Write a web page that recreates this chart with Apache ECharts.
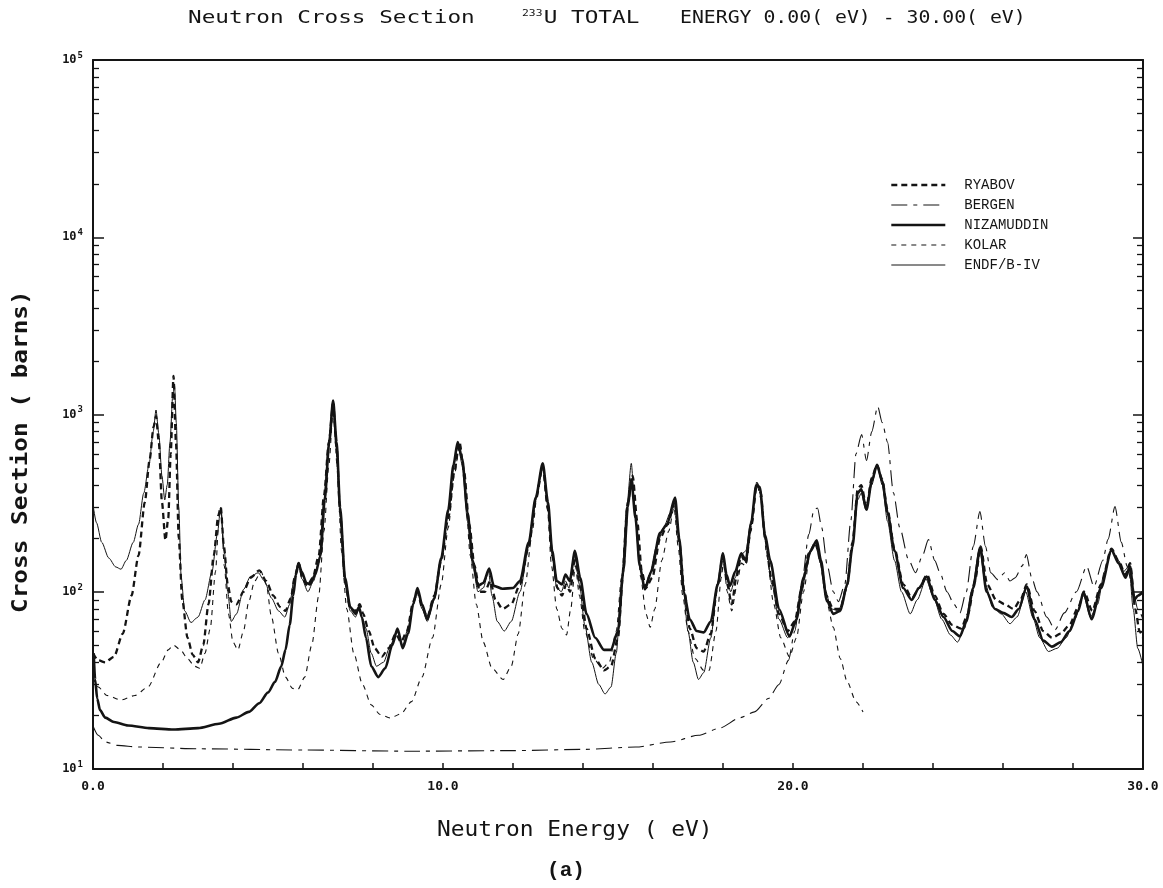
<!DOCTYPE html>
<html>
<head>
<meta charset="utf-8">
<script src="https://cdn.jsdelivr.net/npm/echarts@6/dist/echarts.min.js"></script>
<style>
  html, body { margin: 0; padding: 0; background: #fff; }
  #chart { width: 1163px; height: 888px; }
</style>
</head>
<body>
<div id="chart"></div>
<script>
// 233U total cross section, 0-30 eV, five resonance parameter sets.
// Each series: [neutron energy (eV), cross section (barns)]

const seriesNames = ['RYABOV', 'BERGEN', 'NIZAMUDDIN', 'KOLAR', 'ENDF/B-IV'];

const ryabov = [
  [0.0, 45], [0.15, 41], [0.35, 40], [0.6, 43], [0.85, 58], [1.1, 95], [1.3, 160], [1.48, 320],
  [1.62, 560], [1.73, 850], [1.8, 980], [1.88, 700], [1.97, 320], [2.07, 195], [2.15, 260], [2.22, 600],
  [2.3, 1650], [2.37, 700], [2.45, 200], [2.55, 90], [2.7, 55], [2.85, 44], [3.0, 40], [3.15, 50],
  [3.3, 85], [3.45, 160], [3.58, 270], [3.65, 300], [3.74, 180], [3.85, 110], [3.95, 88], [4.1, 85],
  [4.3, 100], [4.5, 120], [4.75, 132], [4.95, 115], [5.15, 95], [5.35, 82], [5.5, 78], [5.65, 92],
  [5.78, 125], [5.88, 145], [5.98, 120], [6.12, 108], [6.28, 120], [6.45, 160], [6.6, 350], [6.74, 700],
  [6.86, 1150], [6.96, 650], [7.06, 280], [7.2, 115], [7.35, 80], [7.5, 78], [7.62, 85], [7.72, 75],
  [7.88, 60], [8.05, 48], [8.25, 43], [8.45, 48], [8.65, 58], [8.8, 52], [8.97, 60], [9.15, 88],
  [9.27, 100], [9.4, 82], [9.55, 72], [9.75, 95], [9.95, 150], [10.15, 260], [10.32, 470], [10.47, 700],
  [10.6, 480], [10.75, 240], [10.9, 140], [11.05, 100], [11.2, 100], [11.35, 115], [11.5, 90], [11.7, 80],
  [11.95, 85], [12.2, 110], [12.45, 180], [12.65, 330], [12.85, 510], [13.0, 290], [13.12, 160], [13.27, 105],
  [13.4, 95], [13.52, 110], [13.63, 100], [13.78, 160], [13.92, 105], [14.1, 62], [14.35, 42], [14.6, 36],
  [14.8, 38], [15.0, 55], [15.15, 130], [15.28, 320], [15.42, 450], [15.55, 250], [15.68, 130], [15.8, 105],
  [15.98, 120], [16.2, 200], [16.42, 240], [16.62, 320], [16.75, 190], [16.9, 100], [17.05, 62], [17.25, 48],
  [17.45, 46], [17.65, 58], [17.85, 110], [18.0, 160], [18.12, 110], [18.25, 85], [18.38, 120], [18.52, 160],
  [18.65, 145], [18.8, 230], [18.97, 410], [19.08, 360], [19.2, 200], [19.38, 120], [19.6, 75], [19.85, 60],
  [20.05, 68], [20.25, 105], [20.45, 165], [20.65, 190], [20.78, 150], [20.95, 95], [21.15, 80], [21.35, 80],
  [21.55, 110], [21.7, 190], [21.85, 380], [21.95, 400], [22.1, 300], [22.25, 440], [22.4, 520], [22.55, 430],
  [22.7, 290], [22.9, 175], [23.15, 110], [23.4, 92], [23.6, 105], [23.83, 125], [24.05, 95], [24.3, 75],
  [24.55, 65], [24.8, 62], [25.0, 75], [25.2, 115], [25.36, 180], [25.55, 110], [25.8, 90], [26.05, 85],
  [26.3, 80], [26.5, 90], [26.68, 110], [26.9, 78], [27.15, 60], [27.4, 55], [27.65, 58], [27.9, 65],
  [28.15, 82], [28.32, 100], [28.55, 78], [28.8, 110], [29.1, 175], [29.3, 150], [29.5, 125], [29.63, 145],
  [29.78, 80], [29.9, 60], [30.0, 55]
];

const bergen = [
  [0.0, 17.5], [0.15, 15.5], [0.35, 14.2], [0.7, 13.6], [1.3, 13.3], [3.0, 13.0], [6.0, 12.8], [9.0, 12.6],
  [12.0, 12.7], [14.0, 12.9], [15.5, 13.3], [16.5, 14.2], [17.3, 15.5], [17.9, 17], [18.5, 19.5], [18.9, 21],
  [19.3, 25], [19.6, 30], [19.87, 41], [20.05, 60], [20.25, 110], [20.45, 210], [20.6, 290], [20.7, 297],
  [20.82, 230], [20.98, 140], [21.15, 100], [21.3, 88], [21.48, 110], [21.65, 250], [21.8, 600], [21.96, 770],
  [22.1, 550], [22.25, 800], [22.42, 1110], [22.55, 900], [22.7, 700], [22.87, 362], [23.05, 230], [23.3, 152],
  [23.5, 128], [23.7, 160], [23.87, 197], [24.05, 150], [24.2, 128], [24.4, 100], [24.6, 85], [24.77, 76],
  [24.95, 100], [25.15, 180], [25.34, 283], [25.5, 180], [25.65, 128], [25.85, 117], [26.05, 128], [26.2, 115],
  [26.35, 120], [26.55, 140], [26.67, 162], [26.82, 120], [26.97, 100], [27.25, 72], [27.49, 61], [27.75, 76],
  [28.1, 100], [28.39, 139], [28.6, 107], [28.85, 150], [29.0, 197], [29.2, 302], [29.38, 190], [29.55, 139],
  [29.72, 100], [29.85, 80], [30.0, 70]
];

const nizamuddin = [
  [0.02, 45], [0.06, 32], [0.12, 25], [0.2, 21.5], [0.35, 19.5], [0.6, 18.4], [1.0, 17.6], [1.6, 17.0],
  [2.3, 16.7], [3.0, 17.0], [3.6, 18.0], [4.1, 19.5], [4.45, 21], [4.75, 23.5], [5.0, 27], [5.2, 31],
  [5.38, 38], [5.5, 47], [5.62, 65], [5.72, 95], [5.8, 125], [5.87, 145], [5.96, 130], [6.1, 112],
  [6.2, 110], [6.35, 125], [6.5, 160], [6.62, 330], [6.75, 700], [6.86, 1200], [6.96, 700], [7.06, 300],
  [7.2, 120], [7.35, 82], [7.5, 75], [7.6, 82], [7.68, 72], [7.8, 55], [7.95, 38], [8.15, 33],
  [8.35, 37], [8.55, 50], [8.7, 62], [8.85, 48], [9.0, 58], [9.15, 85], [9.27, 105], [9.4, 85],
  [9.55, 70], [9.75, 92], [9.95, 155], [10.15, 290], [10.3, 520], [10.42, 700], [10.55, 560], [10.7, 280],
  [10.85, 150], [11.0, 108], [11.15, 112], [11.32, 135], [11.45, 108], [11.7, 104], [12.0, 105], [12.2, 115],
  [12.45, 190], [12.65, 340], [12.85, 530], [13.0, 320], [13.12, 170], [13.25, 115], [13.4, 110], [13.5, 125],
  [13.62, 115], [13.77, 170], [13.92, 120], [14.1, 75], [14.35, 55], [14.6, 47], [14.8, 47], [15.0, 60],
  [15.15, 130], [15.28, 300], [15.38, 430], [15.5, 260], [15.62, 140], [15.77, 103], [15.95, 130], [16.2, 215],
  [16.4, 240], [16.63, 340], [16.75, 200], [16.88, 100], [17.05, 70], [17.25, 60], [17.45, 59], [17.65, 68],
  [17.85, 110], [18.0, 165], [18.1, 125], [18.2, 108], [18.35, 130], [18.52, 165], [18.65, 150], [18.8, 240],
  [18.95, 400], [19.05, 390], [19.2, 210], [19.35, 150], [19.6, 80], [19.9, 56], [20.1, 70], [20.3, 120],
  [20.5, 170], [20.68, 195], [20.8, 150], [20.96, 90], [21.15, 75], [21.35, 78], [21.55, 110], [21.7, 180],
  [21.85, 360], [21.95, 380], [22.1, 290], [22.25, 420], [22.4, 520], [22.55, 420], [22.7, 280], [22.9, 170],
  [23.15, 105], [23.39, 90], [23.6, 105], [23.82, 122], [24.05, 90], [24.3, 72], [24.55, 60], [24.77, 56],
  [24.95, 68], [25.15, 105], [25.35, 178], [25.53, 100], [25.77, 80], [26.0, 76], [26.25, 72], [26.45, 80],
  [26.68, 107], [26.9, 70], [27.15, 53], [27.4, 49], [27.65, 52], [27.9, 60], [28.15, 78], [28.3, 100],
  [28.53, 70], [28.8, 105], [29.1, 172], [29.3, 145], [29.5, 120], [29.63, 139], [29.75, 90], [29.85, 95],
  [30.0, 100]
];

const kolar = [
  [0.0, 33], [0.15, 29], [0.4, 26], [0.8, 24.5], [1.2, 26], [1.57, 29], [1.95, 40], [2.15, 47],
  [2.3, 50], [2.5, 47], [2.7, 42], [2.9, 38], [3.05, 37], [3.2, 45], [3.35, 62], [3.5, 130],
  [3.6, 260], [3.66, 290], [3.75, 140], [3.87, 75], [4.0, 52], [4.14, 47], [4.3, 60], [4.45, 88],
  [4.62, 115], [4.8, 130], [4.95, 110], [5.1, 72], [5.3, 45], [5.5, 33], [5.7, 28.5], [5.85, 28],
  [6.05, 33], [6.25, 50], [6.45, 95], [6.6, 220], [6.74, 520], [6.86, 1050], [6.98, 500], [7.1, 170],
  [7.25, 80], [7.45, 45], [7.7, 30], [7.95, 23], [8.2, 20.3], [8.5, 19.4], [8.8, 20.5], [9.1, 24],
  [9.4, 33], [9.7, 55], [9.95, 110], [10.15, 230], [10.32, 450], [10.48, 690], [10.62, 400], [10.78, 160],
  [10.95, 85], [11.15, 52], [11.4, 37], [11.72, 32], [11.95, 38], [12.15, 58], [12.35, 110], [12.55, 220],
  [12.72, 400], [12.85, 500], [12.98, 300], [13.1, 140], [13.25, 80], [13.4, 62], [13.53, 57], [13.65, 80],
  [13.78, 140], [13.9, 95], [14.05, 60], [14.3, 42], [14.55, 37], [14.75, 40], [14.95, 60], [15.1, 120],
  [15.25, 300], [15.4, 460], [15.52, 260], [15.65, 120], [15.8, 75], [15.92, 63], [16.05, 80], [16.25, 150],
  [16.45, 220], [16.6, 300], [16.72, 180], [16.85, 95], [17.0, 60], [17.2, 42], [17.45, 36], [17.6, 36],
  [17.8, 60], [17.95, 120], [18.02, 150], [18.12, 100], [18.25, 78], [18.4, 110], [18.52, 145], [18.65, 140],
  [18.8, 220], [18.97, 400], [19.1, 330], [19.25, 160], [19.45, 85], [19.65, 55], [19.9, 43], [20.1, 55],
  [20.3, 100], [20.5, 170], [20.65, 190], [20.8, 140], [20.98, 85], [21.15, 63], [21.35, 42], [21.55, 31],
  [21.8, 24], [22.0, 21]
];

const endf = [
  [0.0, 310], [0.1, 245], [0.25, 190], [0.45, 155], [0.65, 138], [0.8, 134], [0.95, 150], [1.15, 190],
  [1.3, 240], [1.45, 360], [1.6, 520], [1.72, 800], [1.8, 1060], [1.88, 780], [1.97, 450], [2.05, 330],
  [2.12, 400], [2.2, 700], [2.28, 1300], [2.33, 1450], [2.38, 900], [2.45, 300], [2.52, 120], [2.62, 78],
  [2.8, 67], [3.0, 72], [3.2, 90], [3.4, 130], [3.55, 210], [3.65, 300], [3.75, 170], [3.85, 100],
  [3.95, 68], [4.1, 75], [4.3, 103], [4.5, 122], [4.72, 128], [4.9, 115], [5.1, 92], [5.3, 78],
  [5.48, 72], [5.62, 85], [5.75, 120], [5.86, 145], [5.97, 118], [6.14, 100], [6.3, 115], [6.45, 145],
  [6.6, 330], [6.72, 650], [6.86, 1200], [6.95, 700], [7.05, 300], [7.2, 110], [7.35, 78], [7.5, 72],
  [7.6, 80], [7.68, 72], [7.8, 62], [7.95, 45], [8.1, 38], [8.3, 40], [8.5, 50], [8.68, 60],
  [8.85, 50], [9.0, 62], [9.15, 85], [9.28, 100], [9.4, 80], [9.55, 68], [9.75, 90], [9.95, 150],
  [10.15, 280], [10.3, 500], [10.42, 680], [10.55, 520], [10.7, 250], [10.85, 140], [11.0, 100], [11.15, 105],
  [11.3, 130], [11.4, 95], [11.55, 68], [11.75, 60], [11.95, 68], [12.2, 100], [12.45, 180], [12.65, 330],
  [12.85, 520], [13.0, 300], [13.12, 160], [13.25, 105], [13.38, 100], [13.5, 115], [13.6, 105], [13.75, 165],
  [13.9, 110], [14.05, 65], [14.25, 40], [14.45, 30], [14.63, 26.5], [14.8, 29], [14.95, 45], [15.1, 110],
  [15.25, 300], [15.38, 530], [15.48, 300], [15.6, 150], [15.75, 105], [15.9, 125], [16.1, 180], [16.3, 230],
  [16.5, 280], [16.6, 330], [16.72, 220], [16.85, 110], [17.0, 60], [17.15, 40], [17.3, 32], [17.45, 35],
  [17.65, 55], [17.85, 110], [18.0, 160], [18.1, 120], [18.22, 100], [18.35, 120], [18.5, 160], [18.65, 170],
  [18.8, 250], [18.95, 400], [19.05, 380], [19.2, 200], [19.4, 110], [19.6, 70], [19.85, 55], [20.05, 65],
  [20.25, 100], [20.45, 160], [20.62, 185], [20.75, 160], [20.9, 105], [21.1, 80], [21.3, 78], [21.5, 100],
  [21.68, 170], [21.85, 330], [21.95, 360], [22.08, 290], [22.25, 400], [22.4, 520], [22.55, 400], [22.7, 250],
  [22.9, 150], [23.1, 100], [23.35, 75], [23.55, 90], [23.8, 118], [24.0, 95], [24.25, 70], [24.5, 57],
  [24.7, 52], [24.9, 62], [25.1, 100], [25.33, 175], [25.5, 110], [25.7, 82], [25.95, 75], [26.2, 66],
  [26.4, 72], [26.65, 100], [26.85, 72], [27.05, 55], [27.3, 46], [27.55, 48], [27.8, 55], [28.05, 70],
  [28.3, 95], [28.5, 72], [28.7, 85], [28.9, 130], [29.1, 170], [29.3, 150], [29.45, 130], [29.6, 140],
  [29.72, 80], [29.85, 48], [30.0, 38]
];

// Axis ticks and labels
const energyMin = 0, energyMax = 30, energyTickStep = 2;
const energyLabels = ['0.0', '10.0', '20.0', '30.0'];
const decadeExponents = [1, 2, 3, 4, 5];

const INK = '#141414';
const decadeValues = decadeExponents.map(e => Math.pow(10, e));
const minorValues = [];
decadeExponents.slice(0, -1).forEach(e => {
  for (let m = 2; m <= 9; m++) minorValues.push(m * Math.pow(10, e));
});

const lineStyles = {
  'RYABOV':     { width: 2.3, type: [6, 4] },
  'BERGEN':     { width: 1.1, type: [16, 6, 4, 6] },
  'NIZAMUDDIN': { width: 2.6, type: 'solid' },
  'KOLAR':      { width: 1.1, type: [5, 5] },
  'ENDF/B-IV':  { width: 1.0, type: 'solid' }
};
const seriesData = {
  'RYABOV': ryabov, 'BERGEN': bergen, 'NIZAMUDDIN': nizamuddin, 'KOLAR': kolar, 'ENDF/B-IV': endf
};

function yAxisBase(extra) {
  return Object.assign({
    type: 'log', logBase: 10, min: decadeValues[0], max: decadeValues[decadeValues.length - 1],
    splitLine: { show: false }, minorTick: { show: false }, minorSplitLine: { show: false }
  }, extra);
}

const tickFont = 'DejaVu Sans Mono';

const chart = echarts.init(document.getElementById('chart'), null, { renderer: 'canvas' });

function stretched(text, x, y, size, sx, extra) {
  return {
    type: 'text', x: x, y: y, scaleX: sx, silent: true,
    style: Object.assign({
      text: text, fontFamily: tickFont, fontSize: size, fill: INK,
      verticalAlign: 'middle', align: 'left'
    }, extra || {})
  };
}

chart.setOption({
  animation: false,
  backgroundColor: '#ffffff',
  grid: { left: 93, right: 20, top: 60, bottom: 119, containLabel: false },
  legend: {
    orient: 'vertical', left: 885, top: 173,
    itemWidth: 54, itemHeight: 12, itemGap: 6,
    data: seriesNames.map(name => ({
      name: name,
      lineStyle: Object.assign({ color: INK, cap: 'butt' }, lineStyles[name])
    })),
    itemStyle: { color: 'rgba(0,0,0,0)', borderWidth: 0, opacity: 0 },
    textStyle: { fontFamily: 'Liberation Mono', fontSize: 14, color: INK, padding: [0, 0, 0, 14] },
    selectedMode: false
  },
  xAxis: [
    {
      type: 'value', min: energyMin, max: energyMax, interval: energyTickStep,
      axisLine: { show: true, lineStyle: { color: INK, width: 2 } },
      axisTick: { show: true, inside: true, length: 6, lineStyle: { color: INK, width: 1.5 } },
      axisLabel: {
        margin: 11, fontFamily: tickFont, fontWeight: 'bold', fontSize: 13, color: INK,
        formatter: v => (v % 10 === 0 ? energyLabels[v / 10] : '')
      },
      splitLine: { show: false }
    },
    {
      type: 'value', position: 'top', min: energyMin, max: energyMax,
      axisLine: { show: true, lineStyle: { color: INK, width: 2 } },
      axisTick: { show: false }, axisLabel: { show: false }, splitLine: { show: false }
    }
  ],
  yAxis: [
    yAxisBase({
      position: 'left',
      axisLine: { show: true, lineStyle: { color: INK, width: 2 } },
      axisTick: { show: true, inside: true, length: 11, customValues: decadeValues, lineStyle: { color: INK, width: 1.5 } },
      axisLabel: {
        margin: 10, customValues: decadeValues,
        formatter: v => '{b|10}{s|' + Math.round(Math.log10(v)) + '}',
        rich: {
          b: { fontFamily: tickFont, fontWeight: 'bold', fontSize: 12, color: INK },
          s: { fontFamily: tickFont, fontWeight: 'bold', fontSize: 9, color: INK, padding: [0, 0, 9, 1] }
        }
      }
    }),
    yAxisBase({
      position: 'left', offset: 0,
      axisLine: { show: false },
      axisTick: { show: true, inside: true, length: 6, customValues: minorValues, lineStyle: { color: INK, width: 1.3 } },
      axisLabel: { show: false }
    }),
    yAxisBase({
      position: 'right',
      axisLine: { show: true, lineStyle: { color: INK, width: 2 } },
      axisTick: { show: true, inside: true, length: 10, customValues: decadeValues, lineStyle: { color: INK, width: 1.5 } },
      axisLabel: { show: false }
    }),
    yAxisBase({
      position: 'right', offset: 0,
      axisLine: { show: false },
      axisTick: { show: true, inside: true, length: 6, customValues: minorValues, lineStyle: { color: INK, width: 1.3 } },
      axisLabel: { show: false }
    })
  ],
  series: seriesNames.map(name => ({
    name: name,
    type: 'line',
    xAxisIndex: 0, yAxisIndex: 0,
    data: seriesData[name],
    symbol: 'none', showSymbol: false,
    smooth: 0.25, smoothMonotone: 'x',
    clip: true,
    lineStyle: Object.assign({ color: INK, cap: 'butt', join: 'round' }, lineStyles[name]),
    itemStyle: { color: INK },
    emphasis: { disabled: true }
  })),
  graphic: [
    // chart title
    stretched('Neutron Cross Section', 188, 18, 18, 1.26),
    {
      type: 'text', x: 522, y: 18, scaleX: 1.26, silent: true,
      style: {
        text: '{s|233}{m|U TOTAL}', fill: INK, verticalAlign: 'middle', align: 'left',
        rich: {
          s: { fontFamily: tickFont, fontSize: 9, fill: INK, padding: [0, 1, 9, 0] },
          m: { fontFamily: tickFont, fontSize: 18, fill: INK }
        }
      }
    },
    stretched('ENERGY 0.00( eV) - 30.00( eV)', 680, 18, 18, 1.1),
    // axis titles
    stretched('Neutron Energy ( eV)', 437, 831, 21, 1.09),
    {
      type: 'text', x: 22, y: 613, rotation: Math.PI / 2, scaleX: 1.16, silent: true,
      style: {
        text: 'Cross Section ( barns)', fontFamily: tickFont, fontWeight: 'bold', fontSize: 21,
        fill: INK, verticalAlign: 'middle', align: 'left'
      }
    },
    {
      type: 'text', x: 566, y: 871, silent: true,
      style: {
        text: '(a)', fontFamily: 'Liberation Mono', fontWeight: 'bold', fontSize: 21,
        fill: INK, verticalAlign: 'middle', align: 'center'
      }
    }
  ]
});
</script>
</body>
</html>
